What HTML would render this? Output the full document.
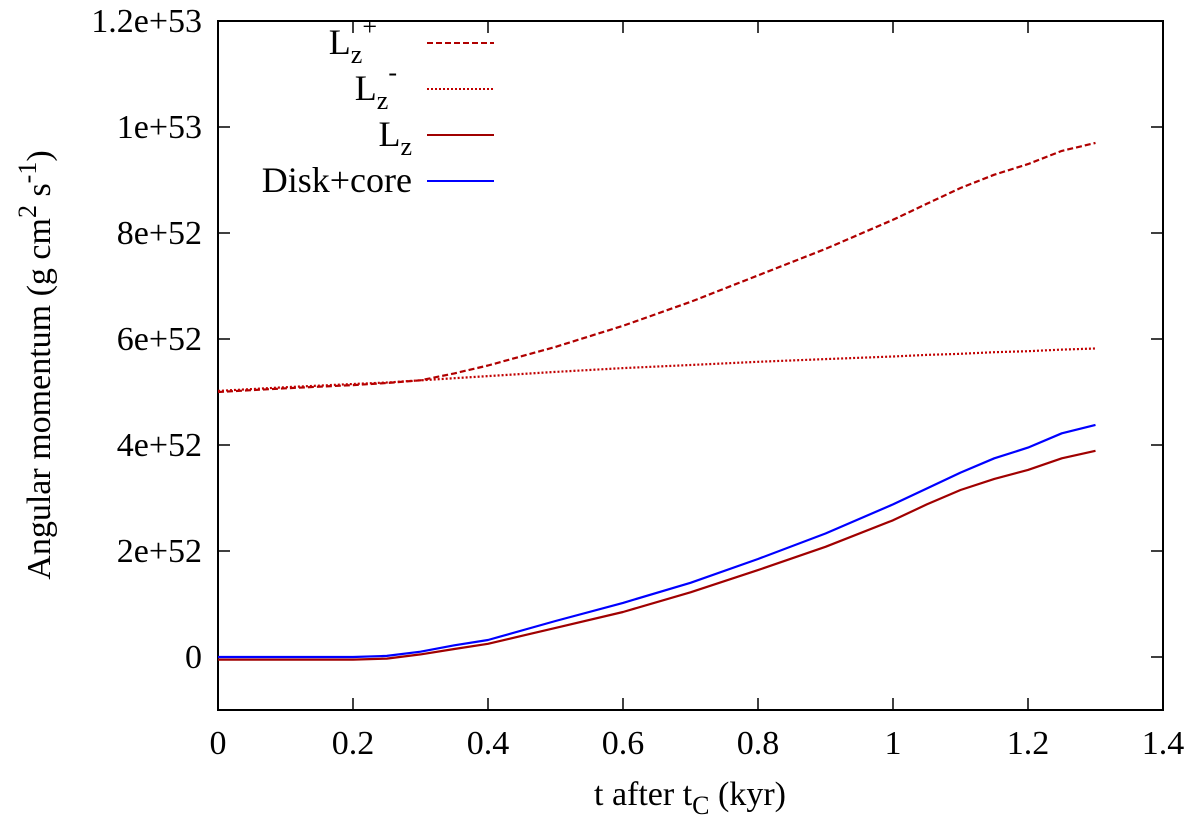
<!DOCTYPE html>
<html><head><meta charset="utf-8"><style>
body{margin:0;background:#fff;font-family:'Liberation Serif','Times New Roman',Times,serif}
svg{display:block}
text,tspan{font-family:'Liberation Serif','Times New Roman',Times,serif !important}
</style></head><body>
<svg id="chart" width="1200" height="822" viewBox="0 0 1200 822" xmlns="http://www.w3.org/2000/svg">
<g id="axes"></g><g id="series"></g><g id="legend"></g>
</svg>
<script>
const tVals=[0,0.1,0.2,0.25,0.3,0.35,0.4,0.5,0.6,0.7,0.8,0.9,1.0,1.05,1.1,1.15,1.2,1.25,1.3];
const lzPlus=[5.0,5.07,5.13,5.17,5.22,5.35,5.5,5.85,6.25,6.7,7.2,7.7,8.25,8.55,8.85,9.1,9.3,9.55,9.7];
const lzMinus=[5.02,5.09,5.15,5.18,5.22,5.26,5.3,5.38,5.45,5.51,5.57,5.62,5.67,5.7,5.72,5.75,5.77,5.8,5.82];
const lzTotal=[-0.05,-0.05,-0.05,-0.03,0.05,0.15,0.25,0.55,0.85,1.22,1.64,2.08,2.58,2.88,3.15,3.36,3.53,3.75,3.89];
const diskCore=[0,0,0,0.02,0.1,0.22,0.32,0.68,1.02,1.4,1.85,2.33,2.88,3.18,3.48,3.75,3.95,4.22,4.38];
const xTicks=[0,0.2,0.4,0.6,0.8,1,1.2,1.4];
const yTicks=[0,2,4,6,8,10,12];
const yTickLabels=["0","2e+52","4e+52","6e+52","8e+52","1e+53","1.2e+53"];
const X0=218,X1=1163,Y0=710,Y1=21;
const FF="font-family:'Liberation Serif','Times New Roman',serif";
const xs=t=>X0+(t-0)/1.4*(X1-X0);
const ys=v=>Y0-(v+1)/13*(Y0-Y1);
const NS="http://www.w3.org/2000/svg";
function mk(tag,attrs,parent,txt){const e=document.createElementNS(NS,tag);for(const k in attrs)e.setAttribute(k,attrs[k]);if(txt!==undefined)e.textContent=txt;parent.appendChild(e);return e;}
const ax=document.getElementById('axes');
let fr=mk('rect',{x:X0,y:Y1,width:X1-X0,height:Y0-Y1,fill:'none',stroke:'#000','stroke-width':2},ax);


xTicks.forEach(t=>{const x=xs(t);
 mk('line',{x1:x,x2:x,y1:Y0,y2:Y0-12,stroke:'#000','stroke-width':1.5},ax);
 mk('line',{x1:x,x2:x,y1:Y1,y2:Y1+12,stroke:'#000','stroke-width':1.5},ax);
 const tx=mk('text',{x:x,y:Y0+44,'font-size':34,'text-anchor':'middle',style:FF},ax,String(t));
 
 
});
yTicks.forEach((v,i)=>{const y=ys(v);
 mk('line',{x1:X0,x2:X0+12,y1:y,y2:y,stroke:'#000','stroke-width':1.5},ax);
 mk('line',{x1:X1,x2:X1-12,y1:y,y2:y,stroke:'#000','stroke-width':1.5},ax);
 const tx=mk('text',{x:X0-16,y:y+11,'font-size':34,'text-anchor':'end',style:FF},ax,yTickLabels[i]);
 
 
});
const xt=mk('text',{x:690,y:805,'font-size':34,'text-anchor':'middle',style:FF},ax);


xt.innerHTML='t after t<tspan font-size="26" dy="9">C</tspan><tspan dy="-9"> (kyr)</tspan>';
const yt=mk('text',{transform:'translate(50,365) rotate(-90)','font-size':34,'text-anchor':'middle',style:FF},ax);


yt.innerHTML='Angular momentum (g cm<tspan font-size="26" dy="-14">2</tspan><tspan dy="14"> s</tspan><tspan font-size="26" dy="-14">-1</tspan><tspan dy="14">)</tspan>';
const sg=document.getElementById('series');
function line(vals,color,dash,name){
 const pts=tVals.map((t,i)=>xs(t).toFixed(1)+','+ys(vals[i]).toFixed(1)).join(' ');
 const p=mk('polyline',{points:pts,fill:'none',stroke:color,'stroke-width':2.2,'stroke-dasharray':dash,'stroke-linejoin':'round'},sg);
 
 
}
line(lzPlus,'#b00000','6,3','lz-plus-line');
line(lzMinus,'#c00000','2,2','lz-minus-line');
line(lzTotal,'#a00000','none','lz-line');
line(diskCore,'#0000ff','none','disk-core-line');
const lg=document.getElementById('legend');
const items=[['L<tspan font-size="26" dy="9">z</tspan><tspan font-size="26" dy="-28">+</tspan>','#b00000','6,3',43,'legend-lz-plus',377],
['L<tspan font-size="26" dy="9">z</tspan><tspan font-size="26" dy="-28">-</tspan>','#c00000','2,2',89,'legend-lz-minus',397],
['L<tspan font-size="26" dy="9">z</tspan>','#a00000','none',135,'legend-lz',412],
['Disk+core','#0000ff','none',181,'legend-disk-core',412]];
items.forEach(it=>{
 const g=mk('g',{},lg);
 
 
 const t=mk('text',{x:it[5],y:it[3]+11,'font-size':36,'text-anchor':'end',style:FF},g);
 t.innerHTML=it[0];
 mk('line',{x1:427,x2:494,y1:it[3],y2:it[3],stroke:it[1],'stroke-width':2,'stroke-dasharray':it[2]},g);
});
</script>
</body></html>
